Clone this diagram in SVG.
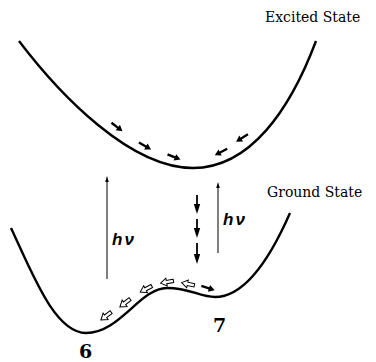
<svg xmlns="http://www.w3.org/2000/svg" width="376" height="362" viewBox="0 0 376 362">
<style>
.curve{fill:none;stroke:#000;stroke-width:2.4}
.thin{fill:none;stroke:#000;stroke-width:1}
.lbl{font-family:"DejaVu Serif","Liberation Serif",serif;font-size:14px;fill:#000}
.num{font-family:"DejaVu Serif","Liberation Serif",serif;font-size:19px;font-weight:bold;fill:#000}
.hv{font-family:"Liberation Sans","DejaVu Sans",sans-serif;font-size:17px;font-style:italic;font-weight:bold;fill:#000;letter-spacing:2px}
.sa{fill:#000}
.ha{fill:#fff;stroke:#000;stroke-width:1}
.shaft{stroke:#000;stroke-width:1.8}
</style>
<defs>
<path id="sa" d="M-7,-1.2 L1,-1.2 L1,-3.5 L7,0 L1,3.5 L1,1.2 L-7,1.2 Z"/>
<path id="ha" d="M6.5,-1.7 L-0.5,-1.7 L-0.5,-4 L-6.5,0 L-0.5,4 L-0.5,1.7 L6.5,1.7 Z"/>
<path id="tri" d="M-3.2,-10 L3.2,-10 L0,0 Z"/>
<path id="up" d="M-1.8,6 L0,0 L1.8,6 Z"/>
</defs>
<g id="excited-state">
<path class="curve" d="M19 41 C60 95 130 168 193 168 C250 168 290 110 316 41"/>
<text class="lbl" x="265" y="22">Excited State</text>
</g>
<g id="ground-state">
<path class="curve" d="M11 228 C33 275 55 333 86 333 C120 333 140 288 167 288 C190 288 200 297 215 297 C240 297 265 270 290 213"/>
<text class="lbl" x="267" y="197">Ground State</text>
</g>
<g id="label-6"><text class="num" x="79" y="358">6</text></g>
<g id="label-7"><text class="num" x="213" y="332">7</text></g>
<g id="hv-left"><text class="hv" x="112" y="245">hν</text></g>
<g id="hv-right"><text class="hv" x="223" y="225">hν</text></g>
<g id="connectors">
<line class="thin" x1="107" y1="279" x2="107" y2="180"/>
<use href="#up" x="107" y="176"/>
<line class="thin" x1="218" y1="253" x2="218" y2="186"/>
<use href="#up" x="218" y="182"/>
<g class="sa">
<line class="shaft" x1="197" y1="195" x2="197" y2="206"/>
<use href="#tri" x="197" y="214"/>
<line class="shaft" x1="197" y1="219" x2="197" y2="230"/>
<use href="#tri" x="197" y="238"/>
<line class="shaft" x1="197" y1="243" x2="197" y2="255"/>
<use href="#tri" x="197" y="264"/>
<use href="#sa" transform="translate(117,127) rotate(38)"/>
<use href="#sa" transform="translate(145,146) rotate(30)"/>
<use href="#sa" transform="translate(174,157) rotate(22)"/>
<use href="#sa" transform="translate(242,138) rotate(148)"/>
<use href="#sa" transform="translate(221,152) rotate(152)"/>
<use href="#sa" transform="translate(208,288) rotate(18)"/>
</g>
<g class="ha">
<use href="#ha" transform="translate(106,316) rotate(-38)"/>
<use href="#ha" transform="translate(125,303) rotate(-38)"/>
<use href="#ha" transform="translate(146,289) rotate(-28)"/>
<use href="#ha" transform="translate(167,282) rotate(-10)"/>
<use href="#ha" transform="translate(188,284) rotate(12)"/>
</g>
</g>
</svg>
